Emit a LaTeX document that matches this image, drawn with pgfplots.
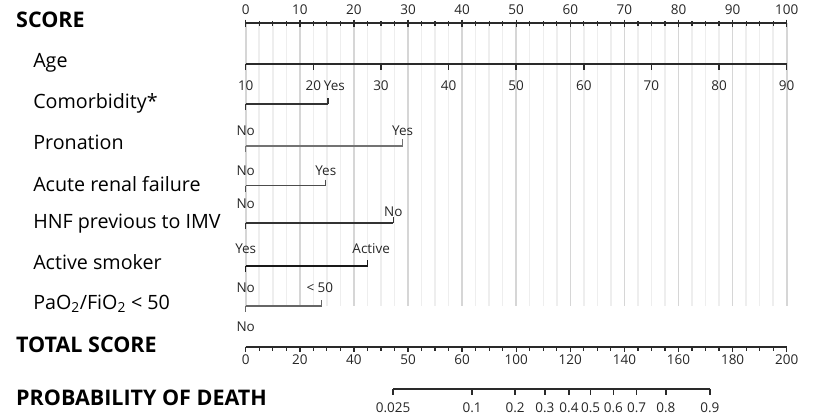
\documentclass[border=0pt]{standalone}
\usepackage{pgfplots}
\pgfplotsset{compat=1.18}
\usepackage{fontspec}
\setmainfont{Open Sans}
\definecolor{ax}{HTML}{2A2A2A}
\definecolor{gmin}{HTML}{EEEEEE}
\definecolor{gmaj}{HTML}{D6D6D6}
\tikzset{
  lab/.style={font=\fontsize{19.7}{22}\selectfont, anchor=base west, inner sep=0pt},
  head/.style={font=\fontsize{21.5}{24}\selectfont\bfseries, anchor=base west, inner sep=0pt},
  tl/.style={font=\fontsize{13.5}{16}\selectfont, anchor=base, inner sep=0pt, text=black!85}
}
\begin{document}
\begin{tikzpicture}
\begin{axis}[x=5.41pt, y=1pt, y dir=reverse,
  xmin=-45.42, xmax=104.86, ymin=0, ymax=416,
  hide axis, clip=false]
\path (axis cs:-45.42,0) rectangle (axis cs:104.86,416);
% grid lines
\pgfplotsinvokeforeach{0,2.5,...,100}{\addplot[draw=gmin, line width=1.5pt] coordinates {(#1,23) (#1,306)};}
\pgfplotsinvokeforeach{0,10,...,100}{\addplot[draw=gmaj, line width=1.6pt] coordinates {(#1,23) (#1,306)};}
% SCORE axis
\addplot[draw=ax, line width=2pt] coordinates {(0,23) (100,23)};
\pgfplotsinvokeforeach{0,2.5,...,100}{\addplot[only marks, mark=|, mark size=2.2pt, mark options={draw=ax, line width=1.2pt}] coordinates {(#1,23.5)};}
\pgfplotsinvokeforeach{0,10,...,100}{\addplot[only marks, mark=|, mark size=3.5pt, mark options={draw=ax, line width=1.4pt}] coordinates {(#1,23)};}
\node[tl] at (axis cs:0,14) {0};
\node[tl] at (axis cs:10,14) {10};
\node[tl] at (axis cs:20,14) {20};
\node[tl] at (axis cs:30,14) {30};
\node[tl] at (axis cs:40,14) {40};
\node[tl] at (axis cs:50,14) {50};
\node[tl] at (axis cs:60,14) {60};
\node[tl] at (axis cs:70,14) {70};
\node[tl] at (axis cs:80,14) {80};
\node[tl] at (axis cs:90,14) {90};
\node[tl] at (axis cs:100,14) {100};
% Age axis
\addplot[draw=ax, line width=1.8pt] coordinates {(0,64) (100,64)};
\addplot[only marks, mark=|, mark size=3pt, mark options={draw=ax, line width=1.5pt}] coordinates {(0,67) (12.5,67) (25,67) (37.5,67) (50,67) (62.5,67) (75,67) (87.5,67) (100,67)};
\node[tl] at (axis cs:0,90) {10};
\node[tl] at (axis cs:12.5,90) {20};
\node[tl] at (axis cs:25,90) {30};
\node[tl] at (axis cs:37.5,90) {40};
\node[tl] at (axis cs:50,90) {50};
\node[tl] at (axis cs:62.5,90) {60};
\node[tl] at (axis cs:75,90) {70};
\node[tl] at (axis cs:87.5,90) {80};
\node[tl] at (axis cs:100,90) {90};
% Comorbidity
\addplot[draw=black!80, line width=1.9pt] coordinates {(0,104) (15.2,104)};
\addplot[only marks, mark=|, mark size=3pt, mark options={draw=black!80, line width=1.4pt}] coordinates {(0,107)};
\addplot[only marks, mark=|, mark size=3pt, mark options={draw=black!80, line width=1.4pt}] coordinates {(15.2,101)};
\node[tl] at (axis cs:16.4,90) {Yes};
% Pronation
\addplot[draw=black!55, line width=1.7pt] coordinates {(0,146) (29,146)};
\addplot[only marks, mark=|, mark size=3pt, mark options={draw=black!55, line width=1.4pt}] coordinates {(0,149)};
\addplot[only marks, mark=|, mark size=3.5pt, mark options={draw=black!55, line width=1.4pt}] coordinates {(29,142.5)};
\node[tl] at (axis cs:0,135) {No};
\node[tl] at (axis cs:29,135) {Yes};
% Acute renal failure
\addplot[draw=black!70, line width=1.7pt] coordinates {(0,185.5) (14.8,185.5)};
\addplot[only marks, mark=|, mark size=3pt, mark options={draw=black!70, line width=1.4pt}] coordinates {(0,188.5)};
\addplot[only marks, mark=|, mark size=3pt, mark options={draw=black!70, line width=1.4pt}] coordinates {(14.8,182.5)};
\node[tl] at (axis cs:0,175) {No};
\node[tl] at (axis cs:14.8,175) {Yes};
% HNF previous to IMV
\addplot[draw=black!80, line width=1.9pt] coordinates {(0,223.3) (27.3,223.3)};
\addplot[only marks, mark=|, mark size=3pt, mark options={draw=black!80, line width=1.4pt}] coordinates {(0,226.3)};
\addplot[only marks, mark=|, mark size=3pt, mark options={draw=black!80, line width=1.4pt}] coordinates {(27.3,220.3)};
\node[tl] at (axis cs:0,208) {No};
\node[tl] at (axis cs:27.3,216) {No};
% Active smoker
\addplot[draw=black!90, line width=2.1pt] coordinates {(0,266) (22.55,266)};
\addplot[only marks, mark=|, mark size=3pt, mark options={draw=black!90, line width=1.4pt}] coordinates {(0,269)};
\addplot[only marks, mark=|, mark size=3pt, mark options={draw=black!90, line width=1.4pt}] coordinates {(22.55,263)};
\node[tl] at (axis cs:0,253) {Yes};
\node[tl] at (axis cs:23.2,253) {Active};
% PaO2/FiO2
\addplot[draw=black!60, line width=1.7pt] coordinates {(0,306) (14.05,306)};
\addplot[only marks, mark=|, mark size=3pt, mark options={draw=black!60, line width=1.4pt}] coordinates {(0,309)};
\addplot[only marks, mark=|, mark size=3pt, mark options={draw=black!60, line width=1.4pt}] coordinates {(14.05,303)};
\node[tl] at (axis cs:0,292) {No};
\node[tl] at (axis cs:13.7,292) {< 50};
\node[tl] at (axis cs:0,331) {No};
% TOTAL SCORE axis
\addplot[draw=ax, line width=1.8pt] coordinates {(0,347) (100,347)};
\pgfplotsinvokeforeach{0,2.5,...,100}{\addplot[only marks, mark=|, mark size=2pt, mark options={draw=ax, line width=1.2pt}] coordinates {(#1,349)};}
\pgfplotsinvokeforeach{0,10,...,100}{\addplot[only marks, mark=|, mark size=2.8pt, mark options={draw=ax, line width=1.4pt}] coordinates {(#1,349.5)};}
\node[tl] at (axis cs:0,364) {0};
\node[tl] at (axis cs:10,364) {20};
\node[tl] at (axis cs:20,364) {40};
\node[tl] at (axis cs:30,364) {50};
\node[tl] at (axis cs:40,364) {60};
\node[tl] at (axis cs:50,364) {100};
\node[tl] at (axis cs:60,364) {120};
\node[tl] at (axis cs:70,364) {140};
\node[tl] at (axis cs:80,364) {160};
\node[tl] at (axis cs:90,364) {180};
\node[tl] at (axis cs:100,364) {200};
% PROBABILITY axis (positions in total-score/2)
\addplot[draw=ax, line width=2pt] coordinates {(27.25,389) (85.8,389)};
\addplot[only marks, mark=|, mark size=3.2pt, mark options={draw=ax, line width=1.5pt}] coordinates {(27.25,392) (41.85,392) (49.8,392) (55.3,392) (59.75,392) (63.75,392) (67.95,392) (72.25,392) (77.65,392) (85.8,392)};
\node[tl] at (axis cs:27.25,412) {0.025};
\node[tl] at (axis cs:41.85,412) {0.1};
\node[tl] at (axis cs:49.8,412) {0.2};
\node[tl] at (axis cs:55.3,412) {0.3};
\node[tl] at (axis cs:59.75,412) {0.4};
\node[tl] at (axis cs:63.75,412) {0.5};
\node[tl] at (axis cs:67.95,412) {0.6};
\node[tl] at (axis cs:72.25,412) {0.7};
\node[tl] at (axis cs:77.65,412) {0.8};
\node[tl] at (axis cs:85.8,412) {0.9};
% left labels
\node[head] at (axis cs:-42.46,27) {SCORE};
\node[lab] at (axis cs:-39.31,67) {Age};
\node[lab] at (axis cs:-39.31,108) {Comorbidity*};
\node[lab] at (axis cs:-39.31,149) {Pronation};
\node[lab] at (axis cs:-39.31,191) {Acute renal failure};
\node[lab] at (axis cs:-39.31,228.5) {HNF previous to IMV};
\node[lab] at (axis cs:-39.31,269) {Active smoker};
\node[lab] at (axis cs:-39.31,309) {PaO\textsubscript{2}/FiO\textsubscript{2} < 50};
\node[head] at (axis cs:-42.46,352) {TOTAL SCORE};
\node[head] at (axis cs:-42.46,405) {PROBABILITY OF DEATH};
\end{axis}
\end{tikzpicture}
\end{document}
